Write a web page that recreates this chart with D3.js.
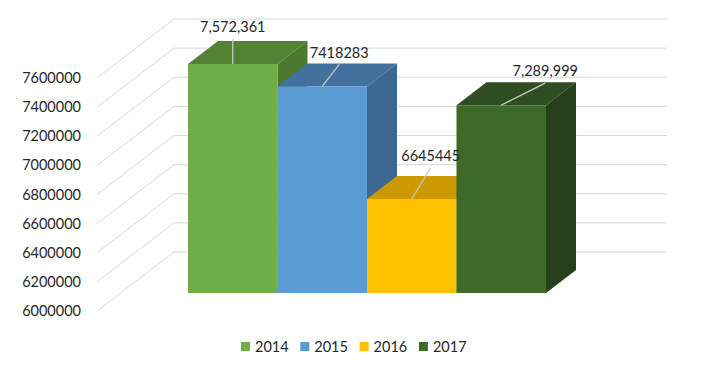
<!DOCTYPE html>
<html>
<head>
<meta charset="utf-8">
<script src="https://cdn.jsdelivr.net/npm/d3@7"></script>
<style>
  body { margin: 0; background: #fff; }
  svg text { font-family: Lato, "Open Sans", sans-serif; fill: #262626; }
</style>
</head>
<body>
<script>
// data
var years = ["2014", "2015", "2016", "2017"];
var values = [7572361, 7418283, 6645445, 7289999];
var labelText = ["7,572,361", "7418283", "6645445", "7,289,999"];
var yTicks = [6000000, 6200000, 6400000, 6600000, 6800000, 7000000, 7200000, 7400000, 7600000];

// colours: front, top, side
var colors = [
  ["#70ad47", "#548235", "#4b7a2e"],
  ["#5b9bd5", "#41719c", "#3a6891"],
  ["#ffc000", "#cc9900", "#bf9000"],
  ["#3e6a29", "#2e4d20", "#253f1a"]
];
// manual label offsets from bar's front top centre (as Excel placed them)
var labelOffsets = [[0, -37], [17, -34], [19, -43], [44, -34]];

var width = 709, height = 388;
var plot = {left: 97, right: 590, bottom: 311, top: 78};
var depth = {dx: 77, dy: -59};        // full floor depth
var barDepth = [0.305, 0.695];         // bars sit in the middle of the floor

var svg = d3.select("body").append("svg")
    .attr("width", width)
    .attr("height", height);

var y = d3.scaleLinear()
    .domain([6000000, 7600000])
    .range([plot.bottom, plot.top]);

var x = d3.scaleBand()
    .domain(years)
    .range([164.5, 522.5])
    .padding(0);

function proj(px, py, f) {
  return [px + depth.dx * f, py + depth.dy * f];
}

// gridlines: left wall diagonal + back wall horizontal
var grid = svg.append("g")
    .attr("stroke", "#d9d9d9")
    .attr("stroke-width", 1)
    .attr("fill", "none");

grid.selectAll("path")
    .data(yTicks)
  .enter().append("path")
    .attr("d", function(d) {
      var a = [plot.left, y(d)];
      var b = proj(plot.left, y(d), 1);
      var c = proj(plot.right, y(d), 1);
      return "M" + a + "L" + b + "L" + c;
    });

// y axis labels
svg.append("g")
    .selectAll("text")
    .data(yTicks)
  .enter().append("text")
    .attr("x", 81)
    .attr("y", function(d) { return y(d); })
    .attr("dy", "0.35em")
    .attr("text-anchor", "end")
    .style("font-size", "14.5px")
    .text(function(d) { return d; });

// bars (left to right, painter order)
var bars = svg.append("g");
years.forEach(function(yr, i) {
  var x0 = x(yr), x1 = x(yr) + x.bandwidth();
  var yb = y(6000000), yt = y(values[i]);
  var f0 = barDepth[0], f1 = barDepth[1];
  var g = bars.append("g");
  function poly(pts) {
    g.append("path")
      .attr("d", "M" + pts.join("L") + "Z");
    return g.select("path:last-child");
  }
  // top
  poly([proj(x0, yt, f0), proj(x1, yt, f0), proj(x1, yt, f1), proj(x0, yt, f1)])
    .attr("fill", colors[i][1]);
  // side
  poly([proj(x1, yt, f0), proj(x1, yt, f1), proj(x1, yb, f1), proj(x1, yb, f0)])
    .attr("fill", colors[i][2]);
  // front
  poly([proj(x0, yt, f0), proj(x1, yt, f0), proj(x1, yb, f0), proj(x0, yb, f0)])
    .attr("fill", colors[i][0]);
});

// data labels with leader lines
var labels = svg.append("g");
years.forEach(function(yr, i) {
  var anchor = proj(x(yr) + x.bandwidth() / 2, y(values[i]), barDepth[0]);
  var lx = anchor[0] + labelOffsets[i][0];
  var ly = anchor[1] + labelOffsets[i][1];
  labels.append("line")
    .attr("x1", lx)
    .attr("y1", ly + 12)
    .attr("x2", anchor[0])
    .attr("y2", anchor[1])
    .attr("stroke", "#c9c9c9")
    .attr("stroke-width", 1.3);
  labels.append("text")
    .attr("x", lx)
    .attr("y", ly)
    .attr("dy", "0.35em")
    .attr("text-anchor", "middle")
    .style("font-size", "14.5px")
    .text(labelText[i]);
});

// legend
var legend = svg.append("g")
    .selectAll("g")
    .data(years)
  .enter().append("g")
    .attr("transform", function(d, i) { return "translate(" + (241 + i * 59.3) + ",342)"; });

legend.append("rect")
    .attr("width", 9)
    .attr("height", 9)
    .attr("fill", function(d, i) { return colors[i][0]; });

legend.append("text")
    .attr("x", 14)
    .attr("y", 4.5)
    .attr("dy", "0.35em")
    .style("font-size", "14.5px")
    .text(function(d) { return d; });
</script>
</body>
</html>
